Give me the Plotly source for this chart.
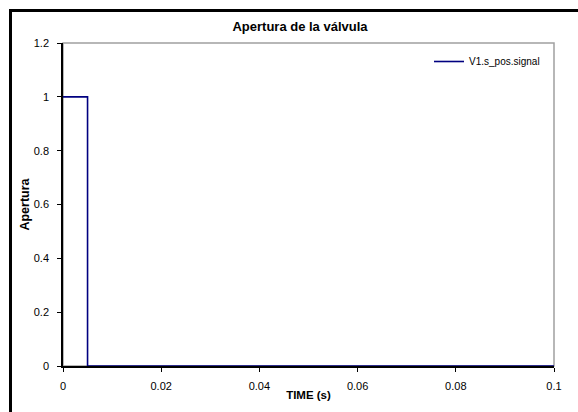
import plotly.graph_objects as go

# Data
time_s = [0.0, 0.005, 0.1]
apertura = [1.0, 0.0, 0.0]
series_name = "V1.s_pos.signal"
x_ticks = [0, 0.02, 0.04, 0.06, 0.08, 0.1]
x_labels = ["0", "0.02", "0.04", "0.06", "0.08", "0.1"]
y_ticks = [0, 0.2, 0.4, 0.6, 0.8, 1.0, 1.2]
y_labels = ["0", "0.2", "0.4", "0.6", "0.8", "1", "1.2"]

FONT = "Liberation Sans, Arial, sans-serif"

fig = go.Figure()
fig.add_trace(go.Scatter(
    x=time_s, y=apertura, mode="lines", name=series_name,
    line=dict(color="#000080", width=1.6, shape="hv"),
    showlegend=True,
))

L, R, T, B = 63, 24, 43, 46
W, H = 578, 412
pw = W - L - R
ph = H - T - B

fig.update_layout(
    width=W, height=H,
    margin=dict(l=L, r=R, t=T, b=B),
    paper_bgcolor="white", plot_bgcolor="white",
    font=dict(family=FONT, size=10, color="black"),
    title=dict(text="<b>Apertura de la válvula</b>", x=300 / W, xanchor="center",
               y=1 - 26 / H, yanchor="middle", font=dict(size=13, family=FONT, color="black")),
    showlegend=True,
    legend=dict(x=(429 - L) / pw, y=(H - B - 47) / ph, xanchor="left", yanchor="top",
                bgcolor="rgba(0,0,0,0)", borderwidth=0, font=dict(size=10, family=FONT),
                itemwidth=30, tracegroupgap=0),
    xaxis=dict(range=[0, 0.1], tickmode="array", tickvals=x_ticks, ticktext=x_labels,
               showgrid=False, zeroline=False, showline=True, linecolor="black", linewidth=1.5,
               ticks="outside", ticklen=4, tickcolor="black", tickwidth=1,
               ticklabelstandoff=5,
               tickfont=dict(size=11, family=FONT),
               title=dict(text="<b>TIME (s)</b>", font=dict(size=11.5, family=FONT), standoff=0)),
    yaxis=dict(range=[0, 1.2], tickmode="array", tickvals=y_ticks, ticktext=y_labels,
               showgrid=False, zeroline=False, showline=True, linecolor="black", linewidth=1.5,
               ticks="outside", ticklen=4, tickcolor="black", tickwidth=1,
               ticklabelstandoff=6,
               tickfont=dict(size=11, family=FONT),
               title=dict(text="<b>Apertura</b>", font=dict(size=12.5, family=FONT), standoff=1)),
)

# gray plot-area frame (top and right sides)
fig.add_shape(type="rect", xref="paper", yref="paper", x0=0, y0=0, x1=1, y1=1,
              line=dict(color="#a0a0a0", width=1.5), layer="below")
# outer black chart border: only left and top edges fall inside the picture
bx0 = (10.5 - L) / pw
by1 = (H - B - 10.5) / ph
fig.add_shape(type="line", xref="paper", yref="paper",
              x0=bx0, y0=(H - B - 420) / ph, x1=bx0, y1=by1 + 1.5 / ph,
              line=dict(color="black", width=3), layer="below")
fig.add_shape(type="line", xref="paper", yref="paper",
              x0=bx0 - 1.5 / pw, y0=by1, x1=(W - L) / pw, y1=by1,
              line=dict(color="black", width=3), layer="below")

fig.write_html("out.html", config={"displayModeBar": False},
               post_script="document.body.style.margin='0';document.body.style.overflow='hidden';")
